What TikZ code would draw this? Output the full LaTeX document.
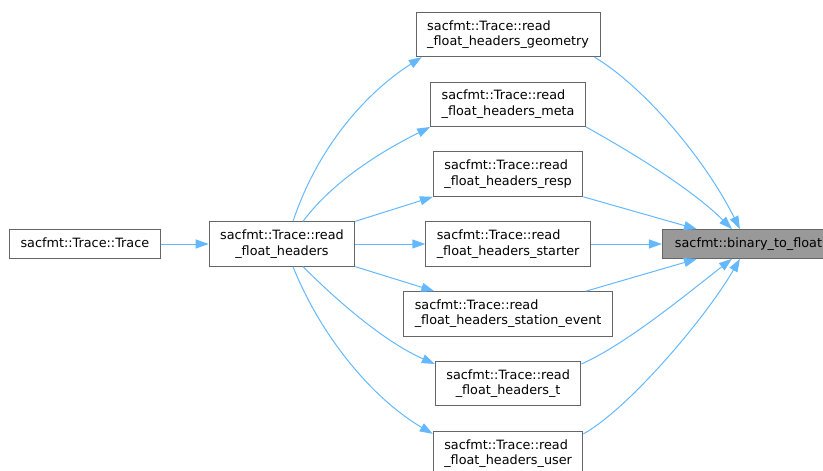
\documentclass[tikz,border=0pt]{standalone}
\usepackage{fontspec}
\setmainfont{DejaVu Sans}
\usetikzlibrary{arrows.meta, positioning}
\definecolor{edgeblue}{HTML}{63B8FF}
\definecolor{boxgray}{HTML}{666666}
\definecolor{hlgray}{HTML}{999999}

\begin{document}
\begin{tikzpicture}[
    x=1pt, y=-1pt, node distance=24.5pt,
    font=\fontsize{12.8}{15.6}\selectfont,
    fn/.style={rectangle, draw=boxgray, line width=1pt, fill=white,
        inner xsep=11pt, inner ysep=8pt, align=left},
    fnone/.style={fn, text height=9.7pt, text depth=3pt},
    fnhl/.style={fnone, fill=hlgray, inner xsep=12.5pt},
    call/.style={draw=edgeblue, line width=1pt,
        -{Triangle[length=13pt, width=9pt]}}]
    \useasboundingbox (0,0) rectangle (823,471);

    % Define nodes
    \node[fn, align=center] (rfh) at (282,244) {sacfmt::Trace::read\\\_float\_headers};
    \node[fnone] (trace) [left=48pt of rfh] {sacfmt::Trace::Trace};
    \node[fn] (starter) [right=70pt of rfh] {sacfmt::Trace::read\\\_float\_headers\_starter};
    \node[fn] (resp) [above=of starter] {sacfmt::Trace::read\\\_float\_headers\_resp};
    \node[fn] (meta) [above=of resp] {sacfmt::Trace::read\\\_float\_headers\_meta};
    \node[fn] (geom) [above=of meta] {sacfmt::Trace::read\\\_float\_headers\_geometry};
    \node[fn] (station) [below=of starter] {sacfmt::Trace::read\\\_float\_headers\_station\_event};
    \node[fn, align=center] (tt) [below=of station] {sacfmt::Trace::read\\\_float\_headers\_t};
    \node[fn] (user) [below=of tt] {sacfmt::Trace::read\\\_float\_headers\_user};
    \node[fnhl] (btf) [right=71pt of starter] {sacfmt::binary\_to\_float};

    % Draw calls
    \draw[call] (trace.east) -- (rfh.west);
    \draw[call] ([xshift=11pt]rfh.north) .. controls +(25,-75) and +(-55,35) .. ([xshift=6pt]geom.south west);
    \draw[call] ([xshift=21pt]rfh.north) .. controls +(30,-40) and +(-50,25) .. (meta.south west);
    \draw[call] (rfh.north east) -- (resp.south west);
    \draw[call] (rfh.east) -- (starter.west);
    \draw[call] (rfh.south east) -- ([xshift=31pt]station.north west);
    \draw[call] ([xshift=21pt]rfh.south) .. controls +(35,35) and +(-50,-22) .. ([yshift=-3pt]tt.north west);
    \draw[call] ([xshift=11pt]rfh.south) .. controls +(28,70) and +(-60,-35) .. ([yshift=-3pt]user.north west);

    \draw[call] ([xshift=-6pt]geom.south east) .. controls +(50,30) and +(-35,-70) .. ([xshift=78pt]btf.north west);
    \draw[call] (meta.south east) .. controls +(45,25) and +(-40,-40) .. ([xshift=70pt]btf.north west);
    \draw[call] (resp.south east) -- ([xshift=35pt]btf.north west);
    \draw[call] (starter.east) -- (btf.west);
    \draw[call] ([xshift=-27pt]station.north east) -- ([xshift=35pt]btf.south west);
    \draw[call] ([yshift=-3pt]tt.north east) .. controls +(45,-20) and +(-45,35) .. ([xshift=70pt]btf.south west);
    \draw[call] ([yshift=-3pt]user.north east) .. controls +(45,-25) and +(-35,60) .. ([xshift=78pt]btf.south west);
\end{tikzpicture}
\end{document}
